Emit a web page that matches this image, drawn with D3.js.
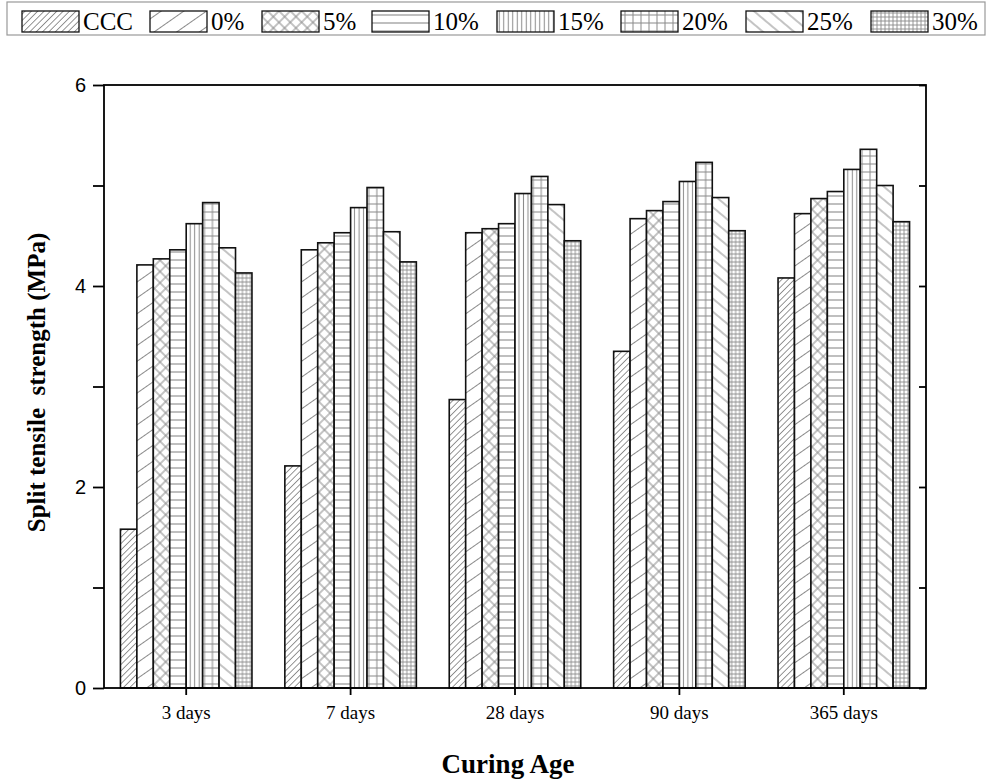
<!DOCTYPE html>
<html>
<head>
<meta charset="utf-8">
<script src="https://cdn.jsdelivr.net/npm/d3@7"></script>
<style>
  html, body { margin: 0; padding: 0; background: #fff; }
  svg { display: block; }
</style>
</head>
<body>
<svg id="chart" width="989" height="783"></svg>
<script>
// Curing ages along the x axis
const ages = ["3 days", "7 days", "28 days", "90 days", "365 days"];
// Mix series shown in the legend
const seriesNames = ["CCC", "0%", "5%", "10%", "15%", "20%", "25%", "30%"];
// Split tensile strength (MPa) per series, one value per curing age
const ccc   = [1.58, 2.21, 2.87, 3.35, 4.08];
const p0    = [4.21, 4.36, 4.53, 4.67, 4.72];
const p5    = [4.27, 4.43, 4.57, 4.75, 4.87];
const p10   = [4.36, 4.53, 4.62, 4.84, 4.94];
const p15   = [4.62, 4.78, 4.92, 5.04, 5.16];
const p20   = [4.83, 4.98, 5.09, 5.23, 5.36];
const p25   = [4.38, 4.54, 4.81, 4.88, 5.00];
const p30   = [4.13, 4.24, 4.45, 4.55, 4.64];
const seriesValues = [ccc, p0, p5, p10, p15, p20, p25, p30];
const yTicks = [0, 2, 4, 6];
const yMinorTicks = [1, 3, 5];

const svg = d3.select("#chart");
const defs = svg.append("defs");
const hatch = "#8a8a8a";

// Fill patterns, one per series
function linePattern(id, spacing, angle, width) {
  const p = defs.append("pattern")
    .attr("id", id).attr("patternUnits", "userSpaceOnUse")
    .attr("width", 40).attr("height", spacing)
    .attr("patternTransform", `rotate(${angle})`);
  p.append("rect").attr("width", 40).attr("height", spacing).attr("fill", "#fff");
  p.append("line").attr("x1", 0).attr("x2", 40).attr("y1", spacing / 2).attr("y2", spacing / 2)
    .attr("stroke", hatch).attr("stroke-width", width || 1);
}
function gridPattern(id, sx, sy, width) {
  const p = defs.append("pattern")
    .attr("id", id).attr("patternUnits", "userSpaceOnUse")
    .attr("width", sx).attr("height", sy);
  p.append("rect").attr("width", sx).attr("height", sy).attr("fill", "#fff");
  p.append("line").attr("x1", 0).attr("x2", sx).attr("y1", sy / 2).attr("y2", sy / 2)
    .attr("stroke", hatch).attr("stroke-width", width || 1);
  p.append("line").attr("y1", 0).attr("y2", sy).attr("x1", sx / 2).attr("x2", sx / 2)
    .attr("stroke", hatch).attr("stroke-width", width || 1);
}
function hLines(id, sy) {
  const p = defs.append("pattern")
    .attr("id", id).attr("patternUnits", "userSpaceOnUse")
    .attr("width", 10).attr("height", sy);
  p.append("rect").attr("width", 10).attr("height", sy).attr("fill", "#fff");
  p.append("line").attr("x1", 0).attr("x2", 10).attr("y1", sy / 2).attr("y2", sy / 2)
    .attr("stroke", hatch).attr("stroke-width", 1.1);
}
function vLines(id, sx) {
  const p = defs.append("pattern")
    .attr("id", id).attr("patternUnits", "userSpaceOnUse")
    .attr("width", sx).attr("height", 10);
  p.append("rect").attr("width", sx).attr("height", 10).attr("fill", "#fff");
  p.append("line").attr("y1", 0).attr("y2", 10).attr("x1", sx / 2).attr("x2", sx / 2)
    .attr("stroke", hatch).attr("stroke-width", 1);
}
function crossPattern(id, spacing) {
  const p = defs.append("pattern")
    .attr("id", id).attr("patternUnits", "userSpaceOnUse")
    .attr("width", spacing).attr("height", spacing)
    .attr("patternTransform", "rotate(45)");
  p.append("rect").attr("width", spacing).attr("height", spacing).attr("fill", "#fff");
  p.append("line").attr("x1", 0).attr("x2", spacing).attr("y1", spacing / 2).attr("y2", spacing / 2)
    .attr("stroke", hatch).attr("stroke-width", 1);
  p.append("line").attr("y1", 0).attr("y2", spacing).attr("x1", spacing / 2).attr("x2", spacing / 2)
    .attr("stroke", hatch).attr("stroke-width", 1);
}

linePattern("pat0", 4.5, -45, 1);      // CCC: dense forward diagonals
linePattern("pat1", 13, -35, 1);       // 0%: sparse forward diagonals
crossPattern("pat2", 8);               // 5%: diagonal crosshatch
hLines("pat3", 8);                     // 10%: horizontal lines
vLines("pat4", 4.5);                   // 15%: vertical lines
gridPattern("pat5", 8, 8, 1);          // 20%: square grid
linePattern("pat6", 10, 40, 1);        // 25%: back diagonals
gridPattern("pat7", 4, 4, 0.9);        // 30%: fine grid

const plotLeft = 104, plotRight = 926, plotTop = 85, plotBottom = 688;

const x0 = d3.scaleBand().domain(ages).range([plotLeft, plotRight]).paddingInner(0.2).paddingOuter(0.1);
const x1 = d3.scaleBand().domain(seriesNames).range([0, x0.bandwidth()]);
const y = d3.scaleLinear().domain([0, 6]).range([plotBottom, plotTop]);

// Bars
const groups = svg.append("g").selectAll("g")
  .data(ages)
  .join("g")
  .attr("transform", d => `translate(${x0(d)},0)`);

groups.selectAll("rect")
  .data((age, i) => seriesNames.map((s, k) => ({ s, k, v: seriesValues[k][i] })))
  .join("rect")
  .attr("x", d => x1(d.s))
  .attr("width", x1.bandwidth())
  .attr("y", d => y(d.v))
  .attr("height", d => y(0) - y(d.v))
  .attr("fill", d => `url(#pat${d.k})`)
  .attr("stroke", "#111")
  .attr("stroke-width", 1.6);

// Frame
svg.append("rect")
  .attr("x", plotLeft).attr("y", plotTop)
  .attr("width", plotRight - plotLeft).attr("height", plotBottom - plotTop)
  .attr("fill", "none").attr("stroke", "#000").attr("stroke-width", 1.8);

// Left axis (outward ticks)
const yAxis = svg.append("g").attr("transform", `translate(${plotLeft},0)`)
  .call(d3.axisLeft(y).tickValues(yTicks).tickSize(11).tickPadding(7).tickFormat(d3.format("d")));
yAxis.select(".domain").remove();
yAxis.selectAll(".tick line").attr("stroke", "#000").attr("stroke-width", 1.8);
yAxis.selectAll("text").attr("font-family", "Liberation Sans, Arial, sans-serif")
  .attr("font-size", 20).attr("fill", "#000");

svg.append("g").attr("transform", `translate(${plotLeft},0)`)
  .call(d3.axisLeft(y).tickValues(yMinorTicks).tickSize(11).tickFormat(""))
  .call(g => g.select(".domain").remove())
  .selectAll(".tick line").attr("stroke", "#000").attr("stroke-width", 1.8);

// Right axis (ticks point inward)
svg.append("g").attr("transform", `translate(${plotRight},0)`)
  .call(d3.axisLeft(y).tickValues(yTicks.concat(yMinorTicks)).tickSize(7).tickFormat(""))
  .call(g => g.select(".domain").remove())
  .selectAll(".tick line").attr("stroke", "#000").attr("stroke-width", 1.8);

// Bottom axis
const xAxis = svg.append("g").attr("transform", `translate(0,${plotBottom})`)
  .call(d3.axisBottom(x0).tickSize(7).tickPadding(11));
xAxis.select(".domain").remove();
xAxis.selectAll(".tick line").attr("stroke", "#000").attr("stroke-width", 1.8);
xAxis.selectAll("text").attr("font-family", "Liberation Serif, Times New Roman, serif")
  .attr("font-size", 19).attr("fill", "#000");

// Axis titles
svg.append("text")
  .attr("x", 508).attr("y", 773)
  .attr("text-anchor", "middle")
  .attr("font-family", "Liberation Serif, Times New Roman, serif")
  .attr("font-weight", "bold").attr("font-size", 27)
  .text("Curing Age");

svg.append("text")
  .attr("transform", `translate(45,${(plotTop + plotBottom) / 2 - 4}) rotate(-90)`)
  .attr("text-anchor", "middle")
  .attr("font-family", "Liberation Serif, Times New Roman, serif")
  .attr("font-weight", "bold").attr("font-size", 25)
  .style("white-space", "pre")
  .text("Split tensile  strength (MPa)");

// Legend
const legendX = [22, 150, 262, 372, 497, 621, 746, 871];
svg.append("rect")
  .attr("x", 7).attr("y", 2).attr("width", 978).attr("height", 33)
  .attr("fill", "#fff").attr("stroke", "#999").attr("stroke-width", 1.2);

const legend = svg.append("g").selectAll("g")
  .data(seriesNames)
  .join("g")
  .attr("transform", (d, i) => `translate(${legendX[i]},11)`);
legend.append("rect")
  .attr("width", 57).attr("height", 21)
  .attr("fill", (d, i) => `url(#pat${i})`)
  .attr("stroke", "#111").attr("stroke-width", 1.3);
legend.append("text")
  .attr("x", 61).attr("y", 19)
  .attr("font-family", "Liberation Serif, Times New Roman, serif")
  .attr("font-size", 25).attr("fill", "#000")
  .text(d => d);
</script>
</body>
</html>
